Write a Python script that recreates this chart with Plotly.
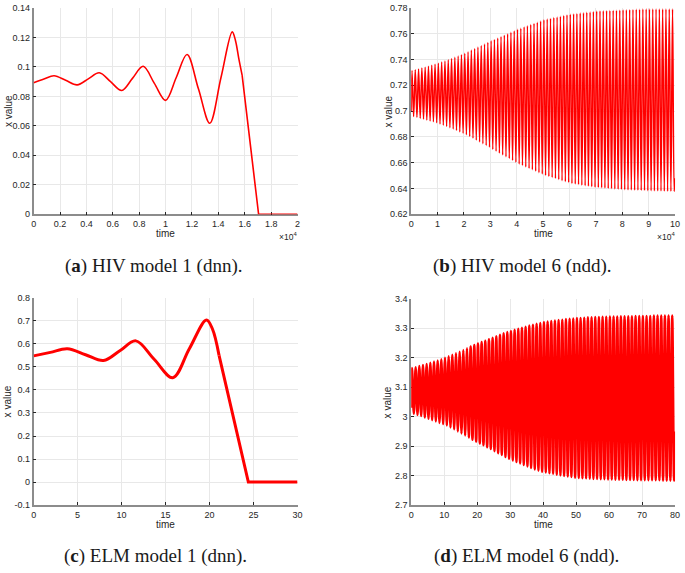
import plotly.graph_objects as go

# ---- (a) HIV model 1 (dnn) ----
TIME_A = [0, 780, 1550, 2430, 3300, 4140, 4975, 5830, 6675, 7490, 8300, 9150,
          10000, 10810, 11625, 12490, 13350, 14200, 15050, 15300, 15550, 15800]
X_A = [0.0893, 0.0918, 0.0940, 0.0909, 0.0878, 0.0919, 0.0960, 0.0900, 0.0840,
       0.0922, 0.1004, 0.0888, 0.0773, 0.0928, 0.1084, 0.0851, 0.0618, 0.0928,
       0.1238, 0.1178, 0.1056, 0.0944]
# straight collapse to zero after the last peak
TAIL_T_A = [15800, 17050, 20000]
TAIL_X_A = [0.0944, 0.0, 0.0]

# ---- (c) ELM model 1 (dnn) ----
TIME_C = [0, 1.9, 3.83, 5.9, 7.95, 9.8, 11.62, 13.7, 15.82, 17.7, 19.65,
          20.33, 21.08]
X_C = [0.548, 0.563, 0.579, 0.553, 0.5275, 0.570, 0.613, 0.533, 0.453, 0.579,
       0.704, 0.6645, 0.550]
TAIL_T_C = [21.08, 24.41, 30]
TAIL_X_C = [0.550, 0.0, 0.0]

# ---- (b) HIV model 6 (ndd): peak / trough of each cycle ----
PEAK_T_B = [
    300, 1550, 2800, 4050, 5300, 6550, 7800, 9050,
    10300, 11550, 12800, 14050, 15300, 16550, 17800, 19050,
    20300, 21550, 22800, 24050, 25300, 26550, 27800, 29050,
    30300, 31550, 32800, 34050, 35300, 36550, 37800, 39050,
    40300, 41550, 42800, 44050, 45300, 46550, 47800, 49050,
    50300, 51550, 52800, 54050, 55300, 56550, 57800, 59050,
    60300, 61550, 62800, 64050, 65300, 66550, 67800, 69050,
    70300, 71550, 72800, 74050, 75300, 76550, 77800, 79050,
    80300, 81550, 82800, 84050, 85300, 86550, 87800, 89050,
    90300, 91550, 92800, 94050, 95300, 96550, 97800, 99050]
PEAK_X_B = [
    0.7315, 0.7320, 0.7327, 0.7334, 0.7341, 0.7348, 0.7355, 0.7363,
    0.7371, 0.7380, 0.7389, 0.7398, 0.7408, 0.7418, 0.7428, 0.7438,
    0.7449, 0.7461, 0.7473, 0.7485, 0.7497, 0.7509, 0.7521, 0.7533,
    0.7545, 0.7556, 0.7567, 0.7578, 0.7589, 0.7600, 0.7611, 0.7622,
    0.7634, 0.7643, 0.7653, 0.7662, 0.7671, 0.7680, 0.7689, 0.7698,
    0.7708, 0.7714, 0.7719, 0.7725, 0.7730, 0.7736, 0.7741, 0.7746,
    0.7751, 0.7754, 0.7757, 0.7760, 0.7763, 0.7766, 0.7769, 0.7772,
    0.7776, 0.7777, 0.7778, 0.7779, 0.7780, 0.7781, 0.7782, 0.7783,
    0.7785, 0.7786, 0.7787, 0.7788, 0.7789, 0.7790, 0.7791, 0.7791,
    0.7792, 0.7792, 0.7792, 0.7792, 0.7792, 0.7792, 0.7792, 0.7792]
TROUGH_T_B = [
    925, 2175, 3425, 4675, 5925, 7175, 8425, 9675,
    10925, 12175, 13425, 14675, 15925, 17175, 18425, 19675,
    20925, 22175, 23425, 24675, 25925, 27175, 28425, 29675,
    30925, 32175, 33425, 34675, 35925, 37175, 38425, 39675,
    40925, 42175, 43425, 44675, 45925, 47175, 48425, 49675,
    50925, 52175, 53425, 54675, 55925, 57175, 58425, 59675,
    60925, 62175, 63425, 64675, 65925, 67175, 68425, 69675,
    70925, 72175, 73425, 74675, 75925, 77175, 78425, 79675,
    80925, 82175, 83425, 84675, 85925, 87175, 88425, 89675,
    90925, 92175, 93425, 94675, 95925, 97175, 98425, 99675]
TROUGH_X_B = [
    0.6958, 0.6952, 0.6945, 0.6938, 0.6931, 0.6924, 0.6917, 0.6910,
    0.6900, 0.6891, 0.6881, 0.6871, 0.6861, 0.6850, 0.6839, 0.6828,
    0.6816, 0.6803, 0.6789, 0.6775, 0.6761, 0.6747, 0.6733, 0.6719,
    0.6702, 0.6688, 0.6674, 0.6660, 0.6646, 0.6632, 0.6618, 0.6604,
    0.6589, 0.6578, 0.6567, 0.6556, 0.6545, 0.6534, 0.6523, 0.6512,
    0.6501, 0.6493, 0.6485, 0.6477, 0.6469, 0.6461, 0.6453, 0.6446,
    0.6438, 0.6434, 0.6430, 0.6426, 0.6422, 0.6418, 0.6414, 0.6410,
    0.6407, 0.6405, 0.6403, 0.6400, 0.6398, 0.6396, 0.6394, 0.6392,
    0.6390, 0.6389, 0.6388, 0.6387, 0.6386, 0.6385, 0.6384, 0.6383,
    0.6382, 0.6381, 0.6381, 0.6380, 0.6379, 0.6378, 0.6378, 0.6377]
START_B, END_B = (0, 0.700), (100000, 0.648)

# ---- (d) ELM model 6 (ndd): peak / trough of each cycle ----
PEAK_T_D = [
    0.25, 1.36, 2.47, 3.58, 4.69, 5.81, 6.92, 8.03, 9.14,
    10.25, 11.36, 12.47, 13.58, 14.69, 15.81, 16.92, 18.03, 19.14,
    20.25, 21.36, 22.47, 23.58, 24.69, 25.81, 26.92, 28.03, 29.14,
    30.25, 31.36, 32.47, 33.58, 34.69, 35.81, 36.92, 38.03, 39.14,
    40.25, 41.36, 42.47, 43.58, 44.69, 45.81, 46.92, 48.03, 49.14,
    50.25, 51.36, 52.47, 53.58, 54.69, 55.81, 56.92, 58.03, 59.14,
    60.25, 61.36, 62.47, 63.58, 64.69, 65.81, 66.92, 68.03, 69.14,
    70.25, 71.36, 72.47, 73.58, 74.69, 75.81, 76.92, 78.03, 79.14]
PEAK_X_D = [
    3.165, 3.168, 3.172, 3.175, 3.179, 3.183, 3.187, 3.191, 3.195,
    3.200, 3.205, 3.210, 3.215, 3.220, 3.226, 3.232, 3.238, 3.243,
    3.248, 3.253, 3.258, 3.263, 3.268, 3.273, 3.278, 3.283, 3.287,
    3.291, 3.295, 3.298, 3.302, 3.305, 3.309, 3.312, 3.315, 3.318,
    3.321, 3.323, 3.325, 3.326, 3.328, 3.329, 3.331, 3.332, 3.333,
    3.335, 3.335, 3.336, 3.337, 3.337, 3.338, 3.338, 3.339, 3.339,
    3.340, 3.340, 3.340, 3.341, 3.341, 3.341, 3.341, 3.342, 3.342,
    3.342, 3.342, 3.342, 3.343, 3.343, 3.343, 3.343, 3.343, 3.343]
TROUGH_T_D = [
    0.81, 1.92, 3.03, 4.14, 5.25, 6.36, 7.47, 8.58, 9.69,
    10.81, 11.92, 13.03, 14.14, 15.25, 16.36, 17.47, 18.58, 19.69,
    20.81, 21.92, 23.03, 24.14, 25.25, 26.36, 27.47, 28.58, 29.69,
    30.81, 31.92, 33.03, 34.14, 35.25, 36.36, 37.47, 38.58, 39.69,
    40.81, 41.92, 43.03, 44.14, 45.25, 46.36, 47.47, 48.58, 49.69,
    50.81, 51.92, 53.03, 54.14, 55.25, 56.36, 57.47, 58.58, 59.69,
    60.81, 61.92, 63.03, 64.14, 65.25, 66.36, 67.47, 68.58, 69.69,
    70.81, 71.92, 73.03, 74.14, 75.25, 76.36, 77.47, 78.58, 79.69]
TROUGH_X_D = [
    3.010, 3.006, 3.002, 2.997, 2.993, 2.988, 2.984, 2.979, 2.975,
    2.970, 2.963, 2.957, 2.950, 2.943, 2.936, 2.929, 2.922, 2.915,
    2.909, 2.903, 2.896, 2.890, 2.883, 2.876, 2.870, 2.863, 2.857,
    2.851, 2.846, 2.841, 2.836, 2.831, 2.826, 2.821, 2.817, 2.813,
    2.811, 2.808, 2.806, 2.803, 2.801, 2.799, 2.797, 2.795, 2.793,
    2.792, 2.791, 2.791, 2.790, 2.789, 2.789, 2.788, 2.788, 2.787,
    2.787, 2.786, 2.786, 2.786, 2.785, 2.785, 2.785, 2.784, 2.784,
    2.784, 2.784, 2.784, 2.784, 2.784, 2.783, 2.783, 2.783, 2.783]
START_D, END_D = (0, 3.03), (80, 2.95)

# ---- axis ticks ----
XT_A = [0, 2000, 4000, 6000, 8000, 10000, 12000, 14000, 16000, 18000, 20000]
XL_A = ["0", "0.2", "0.4", "0.6", "0.8", "1", "1.2", "1.4", "1.6", "1.8", "2"]
YT_A = [0, 0.02, 0.04, 0.06, 0.08, 0.1, 0.12, 0.14]
YL_A = ["0", "0.02", "0.04", "0.06", "0.08", "0.1", "0.12", "0.14"]
XT_B = [0, 10000, 20000, 30000, 40000, 50000, 60000, 70000, 80000, 90000, 100000]
XL_B = ["0", "1", "2", "3", "4", "5", "6", "7", "8", "9", "10"]
YT_B = [0.62, 0.64, 0.66, 0.68, 0.7, 0.72, 0.74, 0.76, 0.78]
YL_B = ["0.62", "0.64", "0.66", "0.68", "0.7", "0.72", "0.74", "0.76", "0.78"]
XT_C = [0, 5, 10, 15, 20, 25, 30]
YT_C = [-0.1, 0, 0.1, 0.2, 0.3, 0.4, 0.5, 0.6, 0.7, 0.8]
YL_C = ["-0.1", "0", "0.1", "0.2", "0.3", "0.4", "0.5", "0.6", "0.7", "0.8"]
XT_D = [0, 10, 20, 30, 40, 50, 60, 70, 80]
YT_D = [2.7, 2.8, 2.9, 3.0, 3.1, 3.2, 3.3, 3.4]
YL_D = ["2.7", "2.8", "2.9", "3", "3.1", "3.2", "3.3", "3.4"]

CAPTIONS = ["(<b>a</b>) HIV model 1 (dnn).", "(<b>b</b>) HIV model 6 (ndd).",
            "(<b>c</b>) ELM model 1 (dnn).", "(<b>d</b>) ELM model 6 (ndd)."]

W, H = 685, 573
RED = "#ff0000"
SANS = "Liberation Sans, Arial, sans-serif"
TICK_FONT = dict(family=SANS, size=9, color="#262626")


def zigzag(start, peak_t, peak_x, trough_t, trough_x, end):
    t, x = [start[0]], [start[1]]
    for pt, px, tt, tx in zip(peak_t, peak_x, trough_t, trough_x):
        t += [pt, tt]
        x += [px, tx]
    t.append(end[0]); x.append(end[1])
    return t, x


def px_x(p):
    return p / W


def px_y(p):
    return 1 - p / H


# plot boxes in pixels: (left, right, top, bottom)
BOX = {
    "a": (31, 298, 3, 213),
    "b": (413, 680, 3, 213),
    "c": (31, 298, 298, 509),
    "d": (413, 680, 299, 509),
}

fig = go.Figure()

tb, xb = zigzag(START_B, PEAK_T_B, PEAK_X_B, TROUGH_T_B, TROUGH_X_B, END_B)
td, xd = zigzag(START_D, PEAK_T_D, PEAK_X_D, TROUGH_T_D, TROUGH_X_D, END_D)


def line(x, y, ax, width, shape):
    n = "" if ax == 1 else str(ax)
    return go.Scatter(x=x, y=y, mode="lines", xaxis="x" + n, yaxis="y" + n,
                      cliponaxis=False, hoverinfo="skip",
                      line=dict(color=RED, width=width, shape=shape, smoothing=1))


fig.add_trace(line(TIME_A, X_A, 1, 1.6, "spline"))
fig.add_trace(line(TAIL_T_A, TAIL_X_A, 1, 1.6, "linear"))
fig.add_trace(line(tb, xb, 2, 1.5, "spline"))
fig.add_trace(line(TIME_C, X_C, 3, 3, "spline"))
fig.add_trace(line(TAIL_T_C, TAIL_X_C, 3, 3, "linear"))
fig.add_trace(line(td, xd, 4, 2.5, "spline"))


def axis_style(domain, rng, tickvals, ticktext, anchor):
    return dict(
        domain=domain, range=rng, tickvals=tickvals, ticktext=ticktext, anchor=anchor,
        showgrid=True, gridcolor="#e8e8e8", gridwidth=1, zeroline=False,
        showline=True, linecolor="#8c8c8c", linewidth=1.5, layer="below traces",
        ticks="inside", ticklen=3, tickcolor="#262626", tickwidth=1,
        tickfont=TICK_FONT, mirror=False, fixedrange=True,
    )


specs = [
    ("a", "", [0, 20000], XT_A, XL_A, [0, 0.14], YT_A, YL_A),
    ("b", "2", [0, 100000], XT_B, XL_B, [0.62, 0.78], YT_B, YL_B),
    ("c", "3", [0, 30], XT_C, [str(v) for v in XT_C], [-0.1, 0.8], YT_C, YL_C),
    ("d", "4", [0, 80], XT_D, [str(v) for v in XT_D], [2.7, 3.4], YT_D, YL_D),
]

layout = {}
for key, n, xr, xt, xl, yr, yt, yl in specs:
    l, r, t, b = BOX[key]
    layout["xaxis" + n] = axis_style([px_x(l), px_x(r)], xr, xt, xl, "y" + n)
    layout["yaxis" + n] = axis_style([px_y(b), px_y(t)], yr, yt, yl, "x" + n)

ann = []
LABEL_FONT = dict(family=SANS, size=10, color="#262626")
for key in BOX:
    l, r, t, b = BOX[key]
    ylab_x = 5 if l < 300 else 390
    ann.append(dict(x=px_x(ylab_x), y=px_y((t + b) / 2), text="x value", textangle=-90,
                    showarrow=False, xref="paper", yref="paper", font=LABEL_FONT,
                    xanchor="center", yanchor="middle"))
    ann.append(dict(x=px_x((l + r) / 2), y=px_y(b + 20), text="time",
                    showarrow=False, xref="paper", yref="paper", font=LABEL_FONT,
                    xanchor="center", yanchor="middle"))
for key in ("a", "b"):
    l, r, t, b = BOX[key]
    ann.append(dict(x=px_x(min(r + 2, W - 1)), y=px_y(b + 23), text="×10<sup>4</sup>",
                    showarrow=False, xref="paper", yref="paper",
                    font=dict(family=SANS, size=8.5, color="#262626"),
                    xanchor="right", yanchor="middle"))

CAP_POS = [(152, 266), (526, 266), (154, 561), (530, 561)]
for text, (cx, cy) in zip(CAPTIONS, CAP_POS):
    ann.append(dict(x=px_x(cx), y=px_y(cy), text=text, showarrow=False,
                    xref="paper", yref="paper",
                    font=dict(family="Liberation Serif, Times New Roman, serif", size=19, color="#1a1a1a"),
                    xanchor="center", yanchor="middle"))

fig.update_layout(
    width=W, height=H, margin=dict(l=0, r=0, t=0, b=0),
    paper_bgcolor="white", plot_bgcolor="white", showlegend=False,
    annotations=ann, **layout,
)

fig.write_html("out.html", config={"displayModeBar": False},
               post_script="document.body.style.margin='0';")
